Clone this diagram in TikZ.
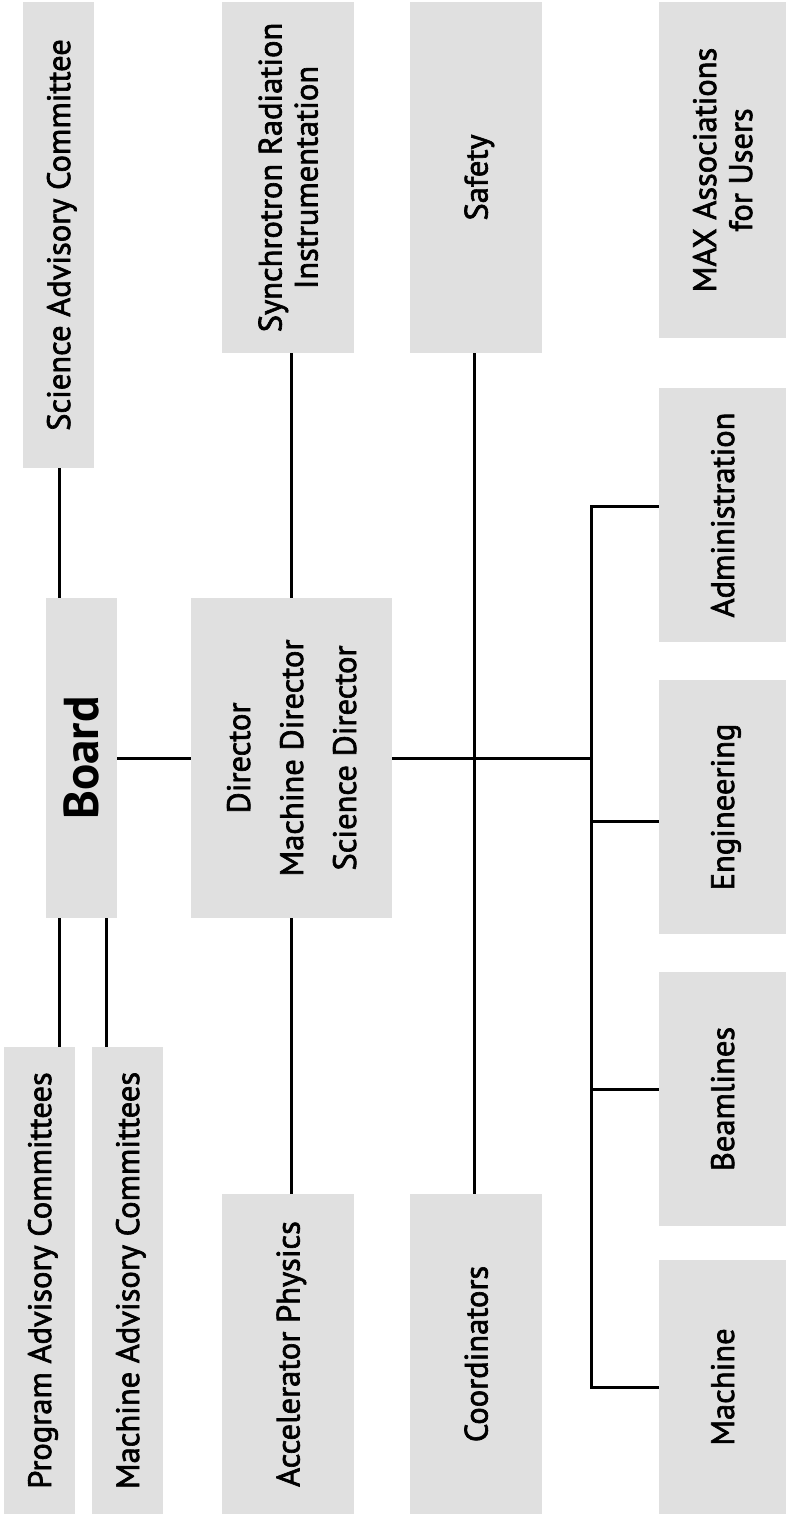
\documentclass[tikz,border=0pt]{standalone}
\usepackage{fontspec}
\setmainfont{PT Sans}
\newfontfamily\lblfamily{PT Sans}[FakeBold=2]
\definecolor{boxgray}{HTML}{E0E0E0}
\tikzset{
  orgbox/.style={fill=boxgray, draw=none, inner sep=0pt},
  lbl/.style={rotate=90, inner sep=0pt, align=center, text depth=0pt,
    font=\lblfamily\fontsize{32.5}{36}\selectfont},
  conn/.style={line width=3pt, draw=black},
}
\begin{document}
\begin{tikzpicture}[x=1pt, y=-1pt]
\useasboundingbox (0,0) rectangle (786,1514);
% boxes
\node[orgbox, minimum width=71pt,  minimum height=466pt] (sci)  at (58.5,235)   {};
\node[orgbox, minimum width=71pt,  minimum height=320pt] (board) at (81.5,758)  {};
\node[orgbox, minimum width=71pt,  minimum height=467pt] (pac)  at (39.5,1280.5) {};
\node[orgbox, minimum width=71pt,  minimum height=467pt] (mac)  at (127.5,1280.5) {};
\node[orgbox, minimum width=132pt, minimum height=351pt] (sri)  at (288,177.5)  {};
\node[orgbox, minimum width=201pt, minimum height=320pt] (dir)  at (291.5,758)  {};
\node[orgbox, minimum width=132pt, minimum height=320pt] (acc)  at (288,1354)   {};
\node[orgbox, minimum width=132pt, minimum height=351pt] (saf)  at (476,177.5)  {};
\node[orgbox, minimum width=132pt, minimum height=320pt] (coo)  at (476,1354)   {};
\node[orgbox, minimum width=127pt, minimum height=336pt] (maxu) at (722.5,170)  {};
\node[orgbox, minimum width=127pt, minimum height=254pt] (adm)  at (722.5,515)  {};
\node[orgbox, minimum width=127pt, minimum height=254pt] (eng)  at (722.5,807)  {};
\node[orgbox, minimum width=127pt, minimum height=254pt] (bea)  at (722.5,1099) {};
\node[orgbox, minimum width=127pt, minimum height=254pt] (mch)  at (722.5,1387) {};
% labels
\node[lbl] (sciT) at (sci) {Science Advisory Committee};
\node[lbl, font=\bfseries\fontsize{49}{60}\selectfont] (boardT) at (board) {Board};
\node[lbl] (pacT) at (pac) {Program Advisory Committees};
\node[lbl] (macT) at (mac) {Machine Advisory Committees};
\node[lbl] (sriT) at (sri) {Synchrotron Radiation\\Instrumentation};
\node[lbl, font=\lblfamily\fontsize{32.5}{53}\selectfont] (dirT) at (dir) {Director\\Machine Director\\Science Director};
\node[lbl] (accT) at (acc) {Accelerator Physics};
\node[lbl] (safT) at (saf) {Safety};
\node[lbl] (cooT) at (coo) {Coordinators};
\node[lbl] (maxT) at (maxu) {MAX Associations\\for Users};
\node[lbl] (admT) at (adm) {Administration};
\node[lbl] (engT) at (eng) {Engineering};
\node[lbl] (beaT) at (bea) {Beamlines};
\node[lbl] (mchT) at (mch) {Machine};
% connectors
\coordinate (brx) at (591.5,759);
\draw[conn] ([xshift=1pt]sci.south) -- ([xshift=1pt]sci.south |- board.north);
\draw[conn] ([xshift=13.3pt]board.south west) -- ([xshift=13.3pt]board.south west |- pac.north);
\draw[conn] ([xshift=-11pt]board.south east) -- ([xshift=-11pt]board.south east |- mac.north);
\draw[conn] (board.east) -- (dir.west);
\draw[conn] (dir.north) -- (dir.north |- sri.south);
\draw[conn] (dir.south) -- (dir.south |- acc.north);
\draw[conn] ([xshift=-2pt]saf.south) -- ([xshift=-2pt]coo.north);
\draw[conn] (dir.east) -- (dir.east -| brx);
\draw[conn] ([yshift=9pt]adm.west) -- ([yshift=9pt]adm.west -| brx) -- (mch.west -| brx) -- (mch.west);
\draw[conn] ([yshift=-14pt]eng.west) -- ([yshift=-14pt]eng.west -| brx);
\draw[conn] ([yshift=10pt]bea.west) -- ([yshift=10pt]bea.west -| brx);
\end{tikzpicture}
\end{document}
